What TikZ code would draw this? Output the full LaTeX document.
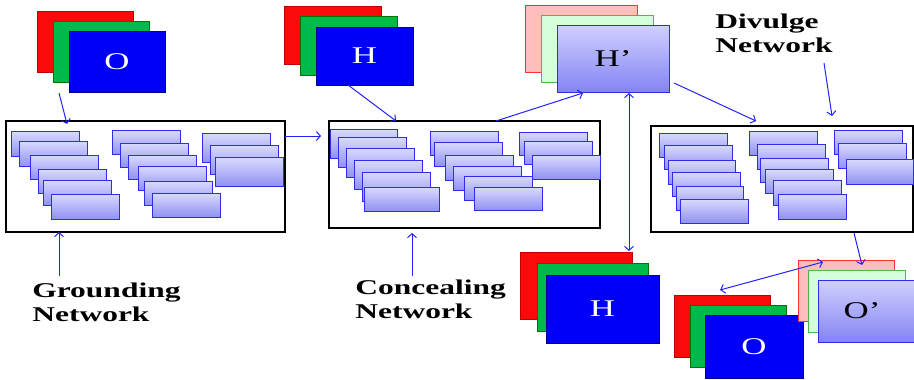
\documentclass[tikz,border=0pt]{standalone}
\usepackage{fontspec}
\setmainfont{Liberation Serif}
\usetikzlibrary{arrows.meta,shadows}

\definecolor{linkblue}{RGB}{35,35,245}
\definecolor{layerred}{RGB}{250,10,10}
\definecolor{layergreen}{RGB}{0,185,75}
\definecolor{layerblue}{RGB}{0,0,250}
\definecolor{palered}{RGB}{255,190,190}
\definecolor{palegreen}{RGB}{212,255,218}
\definecolor{lavtop}{RGB}{208,208,255}
\definecolor{lavbot}{RGB}{132,132,244}
\definecolor{celltop}{RGB}{218,218,255}
\definecolor{cellbot}{RGB}{145,145,243}
\definecolor{cellline}{RGB}{45,45,235}

\tikzset{
  imglayer/.style={inner sep=0pt, outer sep=0pt, anchor=north west, line width=0.6pt,
    drop shadow={shadow xshift=1.2pt, shadow yshift=-1.2pt, opacity=0.3}},
  redlayer/.style={imglayer, draw=red!75!black, fill=layerred},
  greenlayer/.style={imglayer, draw=green!45!black, fill=layergreen},
  bluelayer/.style={imglayer, draw=blue!55!black, fill=layerblue},
  paleredlayer/.style={imglayer, draw=red!80, fill=palered},
  palegreenlayer/.style={imglayer, draw=green!60!black!70, fill=palegreen},
  lavlayer/.style={imglayer, draw=cellline, line width=0.9pt, top color=lavtop, bottom color=lavbot},
  cell/.style={draw=cellline, line width=1pt, top color=celltop, bottom color=cellbot,
    anchor=north west, inner sep=0pt, outer sep=0pt},
  netframe/.style={draw=black, line width=1.4pt, anchor=north west, inner sep=0pt, outer sep=0pt},
  link/.style={draw=linkblue, line width=1pt, -{Straight Barb[length=4pt,width=9pt]}},
  bilink/.style={draw=linkblue, line width=1pt,
    {Straight Barb[length=4pt,width=9pt]}-{Straight Barb[length=4pt,width=9pt]}},
  tag/.style={anchor=north west, inner sep=0pt, align=left,
    font=\fontsize{21}{24}\selectfont\bfseries, xscale=1.5},
  letter/.style={inner sep=0pt, font=\fontsize{24}{24}\selectfont, xscale=1.45},
}

\begin{document}
\begin{tikzpicture}[x=1pt, y=-1pt]
  \useasboundingbox (0,0) rectangle (914,380);

  % networks
  \node[netframe, minimum width=279pt, minimum height=111pt] (ground) at (6,121) {};
  \node[netframe, minimum width=271pt, minimum height=107pt] (conceal) at (329,121) {};
  \node[netframe, minimum width=262pt, minimum height=106pt] (divulge) at (651,126) {};

  \foreach \x/\y/\w/\h in {11/131/68/25, 19/141/68/25, 30/155/68/24, 38/169/68/24, 43/180/68/25, 51/194/68/25,
      112/130/68/24, 120/143/68/24, 128/155/68/24, 138/166/68/24, 144/181/68/24, 152/193/68/24,
      202/133/68/29, 210/145/68/29, 215/157/68/29}
    \node[cell, minimum width=\w pt, minimum height=\h pt] at (\x,\y) {};

  \foreach \x/\y/\w/\h in {330/129/67/29, 338/137/68/30, 346/148/68/29, 354/160/68/29, 362/172/68/29, 364/187/75/24,
      430/131/68/24, 434/142/68/24, 445/155/68/25, 453/166/68/24, 464/176/68/24, 474/187/68/23,
      519/132/68/23, 524/141/68/23, 532/155/68/24}
    \node[cell, minimum width=\w pt, minimum height=\h pt] at (\x,\y) {};

  \foreach \x/\y/\w/\h in {659/133/68/24, 664/145/68/24, 668/160/67/24, 672/172/68/24, 676/186/67/24, 680/199/68/24,
      749/131/68/24, 757/144/68/25, 760/158/68/24, 765/169/68/24, 773/180/68/25, 778/194/68/25,
      834/130/68/24, 838/143/68/25, 846/159/67/25}
    \node[cell, minimum width=\w pt, minimum height=\h pt] at (\x,\y) {};

  % images
  \node[redlayer, minimum width=96pt, minimum height=61pt] (oR) at (37,11) {};
  \node[greenlayer, minimum width=96pt, minimum height=61pt] (oG) at (53,21) {};
  \node[bluelayer, minimum width=96pt, minimum height=61pt] (oB) at (69,31) {};
  \node[letter, text=white] at (oB.center) {O};

  \node[redlayer, minimum width=97pt, minimum height=58pt] (hR) at (284,6) {};
  \node[greenlayer, minimum width=97pt, minimum height=59pt] (hG) at (300,16) {};
  \node[bluelayer, minimum width=97pt, minimum height=58pt] (hB) at (316,27) {};
  \node[letter, text=white] at (hB.center) {H};

  \node[paleredlayer, minimum width=112pt, minimum height=67pt] (hpR) at (525,5) {};
  \node[palegreenlayer, minimum width=112pt, minimum height=67pt] (hpG) at (541,15) {};
  \node[lavlayer, minimum width=112pt, minimum height=67pt] (hpF) at (557,25) {};
  \node[letter] at (hpF.center) {H’};

  \node[redlayer, minimum width=112pt, minimum height=67pt] (hbR) at (520,252) {};
  \node[greenlayer, minimum width=111pt, minimum height=68pt] (hbG) at (537,263) {};
  \node[bluelayer, minimum width=113pt, minimum height=68pt] (hbB) at (546,275) {};
  \node[letter, text=white] at (hbB.center) {H};

  \node[redlayer, minimum width=96pt, minimum height=62pt] (obR) at (674,295) {};
  \node[greenlayer, minimum width=96pt, minimum height=62pt] (obG) at (690,305) {};
  \node[bluelayer, minimum width=98pt, minimum height=63pt] (obB) at (705,315) {};
  \node[letter, text=white] at (obB.center) {O};

  \node[paleredlayer, minimum width=96pt, minimum height=61pt] (opR) at (798,260) {};
  \node[palegreenlayer, minimum width=97pt, minimum height=62pt] (opG) at (808,270) {};
  \node[lavlayer, minimum width=96pt, minimum height=62pt] (opF) at (818,280) {};
  \node[letter] at ([xshift=-4pt]opF.center) {O’};

  % labels
  \node[tag] (gLabel) at (32,283) {Grounding\\Network};
  \node[tag] (cLabel) at (355,280) {Concealing\\Network};
  \node[tag] (dLabel) at (715,14) {Divulge\\Network};
  \coordinate (gTail) at (59,276);
  \coordinate (cTail) at (412,276);
  \coordinate (dTail) at (824,63);
  \coordinate (oTail) at (59,93);

  % flow
  \draw[link] (oTail) -- ([xshift=61pt,yshift=-3pt]ground.north west);
  \draw[link] ([yshift=-15pt]ground.north east) -- ([xshift=-8pt,yshift=-15pt]conceal.north west);
  \draw[link] ([xshift=32pt]hB.south west) -- ([xshift=67pt]conceal.north west);
  \draw[link] ([xshift=167pt]conceal.north west) -- ([xshift=26pt,yshift=-1pt]hpF.south west);
  \draw[bilink] ([xshift=72pt,yshift=-1pt]hpF.south west) -- ([xshift=-3pt,yshift=1pt]hbR.north east);
  \draw[link] ([xshift=5pt,yshift=9pt]hpF.south east) -- ([xshift=105pt,yshift=5pt]divulge.north west);
  \draw[link] ([xshift=203pt,yshift=-1pt]divulge.south west) -- ([xshift=64pt,yshift=-5pt]opR.north west);
  \draw[bilink] ([xshift=46pt,yshift=5pt]obR.north west) -- ([xshift=25pt,yshift=-2pt]opR.north west);

  \draw[link] (gTail) -- (gTail |- ground.south);
  \draw[link, shorten >=5pt] (cTail) -- (cTail |- conceal.south);
  \draw[link] (dTail) -- ([xshift=181pt,yshift=10pt]divulge.north west);
\end{tikzpicture}
\end{document}
